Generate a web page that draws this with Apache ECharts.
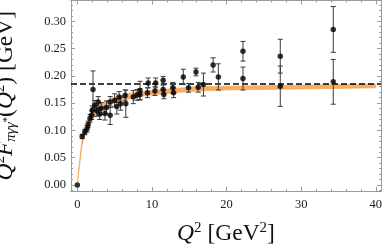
<!DOCTYPE html>
<html>
<head>
<meta charset="utf-8">
<script src="https://cdn.jsdelivr.net/npm/echarts@6/dist/echarts.min.js"></script>
<style>html,body{margin:0;padding:0;background:#fff;}#c{width:382px;height:250px;}</style>
</head>
<body>
<div id="c"></div>
<script>
// Data points: Q^2 [GeV^2], Q^2 F [GeV], error
const qsq   = [0, 0.65, 1.0, 1.3, 1.45, 1.7, 1.9, 2.0, 2.1, 2.35, 2.6, 2.8, 3.0, 3.2, 3.7, 3.9, 4.4, 4.4, 5.0, 5.3, 5.6, 5.8, 6.4, 6.5, 7.5, 8.0, 8.4, 8.4, 9.4, 9.5, 10.4, 10.5, 11.5, 11.5, 11.6, 12.8, 12.9, 14.2, 14.9, 15.9, 16.2, 16.9, 18.2, 18.9, 22.2, 22.2, 27.2, 27.2, 34.3, 34.3];
const ffVal = [0, 0.089, 0.097, 0.103, 0.111, 0.122, 0.128, 0.137, 0.175, 0.146, 0.136, 0.152, 0.130, 0.140, 0.131, 0.142, 0.152, 0.128, 0.155, 0.144, 0.161, 0.149, 0.164, 0.149, 0.161, 0.165, 0.173, 0.166, 0.169, 0.187, 0.172, 0.187, 0.192, 0.175, 0.166, 0.178, 0.169, 0.198, 0.178, 0.207, 0.179, 0.184, 0.220, 0.198, 0.245, 0.195, 0.236, 0.181, 0.285, 0.189];
const ffErr = [0, 0.004, 0.005, 0.006, 0.006, 0.007, 0.008, 0.008, 0.034, 0.009, 0.010, 0.010, 0.010, 0.011, 0.012, 0.012, 0.010, 0.017, 0.012, 0.014, 0.010, 0.012, 0.010, 0.025, 0.012, 0.010, 0.017, 0.010, 0.009, 0.009, 0.008, 0.009, 0.007, 0.008, 0.008, 0.010, 0.009, 0.014, 0.008, 0.007, 0.009, 0.021, 0.013, 0.024, 0.018, 0.021, 0.031, 0.037, 0.042, 0.041];

// Theory band
const bandQ  = [0, 0.15, 0.35, 0.6, 0.9, 1.3, 2, 3, 4, 5, 6, 8, 10, 13, 16, 20, 25, 30, 35, 40];
const bandLo = [0, 0.020, 0.041, 0.070, 0.089, 0.102, 0.119, 0.135, 0.145, 0.151, 0.155, 0.161, 0.165, 0.169, 0.172, 0.174, 0.175, 0.176, 0.177, 0.178];
const bandHi = [0, 0.025, 0.049, 0.080, 0.101, 0.114, 0.131, 0.147, 0.155, 0.161, 0.165, 0.170, 0.173, 0.177, 0.180, 0.181, 0.182, 0.183, 0.184, 0.185];

// Asymptotic limit line
const asymptote = 0.185;

// Ticks
const xMajor = [0, 10, 20, 30, 40];
const xMinor = [0, 2, 4, 6, 8, 10, 12, 14, 16, 18, 20, 22, 24, 26, 28, 30, 32, 34, 36, 38, 40];
const yMajor = [0, 0.05, 0.10, 0.15, 0.20, 0.25, 0.30];
const yMinor = [];
for (let i = -1; i <= 33; i++) yMinor.push(i / 100);

const X_MIN = -0.85, X_MAX = 40.7, Y_MIN = -0.011, Y_MAX = 0.338;
const serif = 'Liberation Serif';
const frameColor = '#9a9a9a';

const chart = echarts.init(document.getElementById('c'), null, {renderer: 'canvas'});

function xAx(pos, ticks, len, labels, extra) {
  return Object.assign({
    type: 'value', min: X_MIN, max: X_MAX, position: pos, gridIndex: 0,
    axisLine: {show: true, onZero: false, lineStyle: {color: frameColor, width: 1}},
    axisTick: {show: true, inside: true, length: len, customValues: ticks, lineStyle: {color: frameColor, width: 1}},
    axisLabel: labels ? {customValues: ticks, fontFamily: serif, fontSize: 12.5, color: '#222', margin: 7} : {show: false},
    splitLine: {show: false}
  }, extra || {});
}
function yAx(pos, ticks, len, labels, extra) {
  return Object.assign({
    type: 'value', min: Y_MIN, max: Y_MAX, position: pos, gridIndex: 0,
    axisLine: {show: true, onZero: false, lineStyle: {color: frameColor, width: 1}},
    axisTick: {show: true, inside: true, length: len, customValues: ticks, lineStyle: {color: frameColor, width: 1}},
    axisLabel: labels ? {customValues: ticks, fontFamily: serif, fontSize: 12.5, color: '#222', margin: 5,
      formatter: v => Number(v).toFixed(2)} : {show: false},
    splitLine: {show: false}
  }, extra || {});
}

const titleRich = {
  i:  {fontFamily: serif, fontStyle: 'italic', fontSize: 23.5, color: '#111'},
  n:  {fontFamily: serif, fontSize: 23.5, color: '#111'},
  s:  {fontFamily: serif, fontSize: 15, color: '#111', verticalAlign: 'top'},
  b:  {fontFamily: serif, fontStyle: 'italic', fontSize: 15, color: '#111', verticalAlign: 'bottom'},
  bs: {fontFamily: serif, fontSize: 11, color: '#111', verticalAlign: 'bottom', padding: [0, 0, 6, 0]}
};

const option = {
  animation: false,
  grid: {left: 71, right: 1, top: 0.5, bottom: 59, containLabel: false, outerBoundsMode: 'none'},
  xAxis: [
    xAx('bottom', xMajor, 4, true, {
      name: '{i|Q}{s|2}{n| [GeV}{s|2}{n|]}',
      nameLocation: 'middle', nameGap: 30,
      nameTextStyle: {rich: titleRich, lineHeight: 26}
    }),
    xAx('bottom', xMinor, 2, false),
    xAx('top', xMajor, 4, false),
    xAx('top', xMinor, 2, false)
  ],
  yAxis: [
    yAx('left', yMajor, 4, true, {
      name: '{i|Q}{s|2}{i|F}{b|πγγ}{bs|*}{n|(}{i|Q}{s|2}{n|) [GeV]}',
      nameLocation: 'middle', nameGap: 52,
      nameTextStyle: {rich: titleRich, lineHeight: 26}
    }),
    yAx('left', yMinor, 2, false),
    yAx('right', yMajor, 4, false),
    yAx('right', yMinor, 2, false)
  ],
  series: [
    {
      type: 'custom', xAxisIndex: 0, yAxisIndex: 0, z: 1, silent: true,
      data: [[0, 0]],
      renderItem: function (params, api) {
        const pts = [];
        for (let k = 0; k < bandQ.length; k++) pts.push(api.coord([bandQ[k], bandHi[k]]));
        for (let k = bandQ.length - 1; k >= 0; k--) pts.push(api.coord([bandQ[k], bandLo[k]]));
        return {
          type: 'polygon', shape: {points: pts, smooth: 0},
          style: {fill: '#f9ac66', stroke: '#f5a04f', lineWidth: 0.6}
        };
      }
    },
    {
      type: 'line', xAxisIndex: 0, yAxisIndex: 0, z: 2, silent: true, symbol: 'none',
      data: [[X_MIN, asymptote], [X_MAX, asymptote]],
      lineStyle: {color: '#000', width: 1.3, type: [6, 3]}
    },
    {
      type: 'custom', xAxisIndex: 0, yAxisIndex: 0, z: 3, silent: true,
      data: qsq.map((q, k) => [q, ffVal[k], ffErr[k]]),
      renderItem: function (params, api) {
        const x = api.value(0), y = api.value(1), e = api.value(2);
        if (!e) return null;
        const lo = api.coord([x, y - e]);
        const hi = api.coord([x, y + e]);
        const w = 2.5;
        const st = {stroke: '#3a3a3a', lineWidth: 1};
        return {
          type: 'group',
          children: [
            {type: 'line', shape: {x1: lo[0], y1: lo[1], x2: hi[0], y2: hi[1]}, style: st},
            {type: 'line', shape: {x1: lo[0] - w, y1: lo[1], x2: lo[0] + w, y2: lo[1]}, style: st},
            {type: 'line', shape: {x1: hi[0] - w, y1: hi[1], x2: hi[0] + w, y2: hi[1]}, style: st}
          ]
        };
      }
    },
    {
      type: 'scatter', xAxisIndex: 0, yAxisIndex: 0, z: 4, silent: true,
      symbol: 'circle', symbolSize: 5.5,
      itemStyle: {color: '#000'},
      data: qsq.map((q, k) => [q, ffVal[k]])
    }
  ]
};
chart.setOption(option);
</script>
</body>
</html>
